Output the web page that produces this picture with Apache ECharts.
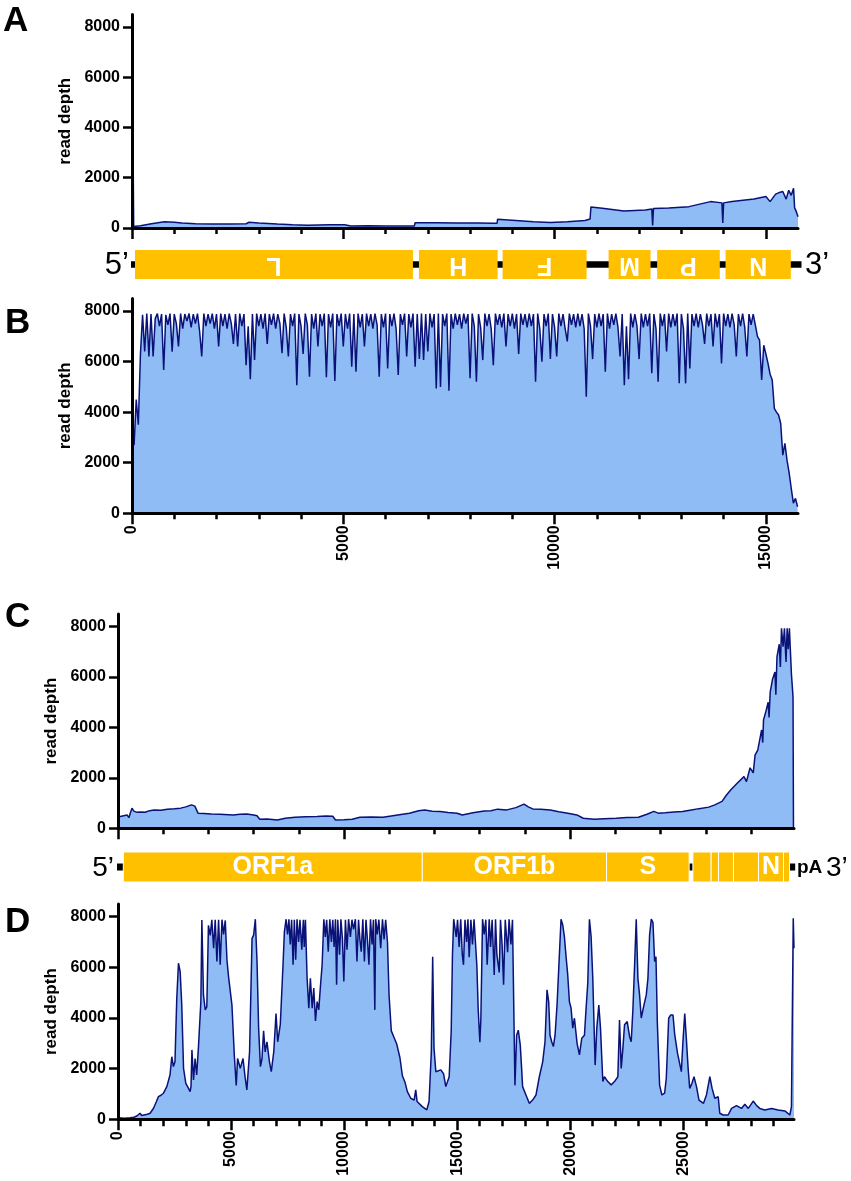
<!DOCTYPE html>
<html><head><meta charset="utf-8">
<script src="https://cdn.jsdelivr.net/npm/echarts@6/dist/echarts.min.js"></script>
<style>html,body{margin:0;padding:0;background:#fff}#c{width:851px;height:1181px}</style>
</head><body><div id="c"></div>
<script>
// ---------------- DATA ----------------
// Panel A (positions nt, read depth)
const aPos = [0,20,40,200,460,770,1000,1180,1500,1900, 2300,2700,2770,3000,3440,3800,4150,4670,5030,5180,
  5600,6000,6400,6680,6700,7200,7700,8200,8560,8640, 8650,9080,9500,9900,10300,10720,10840,10860,11130,11640,
  12150,12300,12320,12340,12700,13180,13690,13960,13980,14000, 14200,14720,15000,15100,15230,15300,15400,15480,15540,15600,
  15655,15680,15720,15760];
const aDepth = [8600,8600,60,90,170,250,230,200,170,160, 160,170,230,200,160,130,105,130,130,80,
  85,80,75,80,210,205,200,195,185,190, 345,300,250,220,250,300,360,840,790,680,
  720,760,100,780,800,850,1050,1000,200,1000, 1050,1150,1250,1050,1350,1400,1450,1150,1500,1300,
  1580,800,650,450];

// Panel B (sampled every bStep nt)
const bStep = 50;
const bDepth = [
  3000,2700,4500,3500,6300,7850,6400,7900,6200,7880,6200,7700,7900,7400,7880,5670,7850,7450,7900,6390,
  7880,7500,6600,7900,7300,7880,7600,7900,7350,7880,7500,7900,7200,6200,7900,7400,7880,7500,7900,7300,
  7880,6600,7900,7400,7880,7300,7900,7500,6700,7880,6600,7900,7400,7880,5860,7400,5300,7880,6060,7900,
  7400,7880,7300,7900,6700,7880,7450,7900,7300,7880,7500,6330,7900,7350,6200,7880,7400,7900,5070,7880,
  7400,6300,7900,7450,5400,7880,7300,7900,6600,7880,7400,7900,5380,7880,7350,7900,5230,7880,7400,7900,
  6600,7880,7300,7900,5800,7880,5600,7900,7350,7880,6600,7900,7400,7880,7300,7900,7450,5400,7880,7350,
  7900,5730,7880,7400,7900,7300,5470,7880,7450,7900,6200,7880,7350,7900,5800,7880,6100,7900,6060,7880,
  6400,7900,7350,7880,4940,7900,5000,7880,7400,7900,4850,7880,7300,7900,7450,7880,7300,7900,7500,7880,
  5340,7900,7400,5200,7880,7350,6060,7900,7400,7880,7300,5860,7900,7450,7880,7350,7900,6600,7880,7400,
  7900,7300,7880,6300,7900,7450,7880,7350,7900,7400,7880,5200,7900,7300,6000,7880,7400,7900,6100,7880,
  7350,6200,7900,7400,7880,7300,6800,7900,7450,7880,7350,7900,7400,7880,7300,4610,7900,7400,6100,7880,
  7350,7900,7400,7880,5600,7900,7300,7880,7450,7900,7350,6200,7880,5070,7400,5300,7900,7350,7880,7400,
  6100,7900,7350,7880,7400,7900,5540,7880,7300,5200,7900,7400,7880,6400,7900,7350,7880,7400,7900,5140,
  7880,7300,5140,7900,5730,7880,7400,7900,7350,7880,7450,6700,7900,7400,7880,6600,7900,7350,7880,5930,
  7900,7400,7880,7350,7900,7450,6200,7880,7400,7900,7350,6200,7880,7450,7880,7450,7000,6850,5270,6650,
  6300,5930,5500,5270,4150,4000,3890,3560,2300,2770,2100,1600,990,400,590,260];

// Panel C ([position, read depth])
const cCoverage = [[0,450],[40,470],[250,500],[400,530],[480,420],[560,650],[620,800],[700,680],[820,640],[900,600],
  [1000,650],[1200,640],[1400,700],[1600,730],[1900,720],[2180,760],[2500,780],[2770,800],[3000,850],[3250,930],
  [3400,880],[3450,840],[3540,600],[3800,590],[4130,570],[4500,560],[5100,530],[5400,560],[5690,570],[6000,530],
  [6150,500],[6270,360],[6600,370],[7050,330],[7400,400],[7830,440],[8300,460],[8800,470],[9200,490],[9500,480],
  [9620,330],[10000,340],[10360,360],[10700,440],[11200,450],[11720,440],[12300,520],[12890,600],[13300,700],[13570,730],
  [13900,680],[14250,670],[14600,630],[15000,600],[15230,530],[15700,620],[16200,690],[16500,700],[16790,760],[17200,730],
  [17600,820],[17960,960],[18150,850],[18350,770],[18700,760],[19120,730],[19500,660],[19900,600],[20300,530],[20580,400],
  [21070,360],[21500,380],[22040,400],[22500,430],[23020,440],[23400,560],[23700,670],[23900,600],[24200,620],[24600,650],
  [24970,670],[25300,720],[25700,780],[26130,840],[26400,930],[26720,1070],[26900,1300],[27110,1530],[27400,1800],[27690,2050],
  [27800,1850],[27960,2400],[28100,2200],[28180,2900],[28300,3100],[28470,3900],[28520,3400],[28555,4300],[28650,4600],[28760,5000],
  [28800,4400],[28850,5400],[28950,5900],[29060,6200],[29100,5300],[29150,6800],[29250,7300],[29300,6400],[29350,7930],[29420,7200],
  [29480,7930],[29550,6600],[29600,7930],[29650,7100],[29700,7930],[29740,7900],[29790,6100],[29830,5600],[29860,5200],[29880,0]];

// Panel D ([position, read depth])
const dCoverage = [[0,60],[15,60],[300,40],[530,60],[700,80],[830,130],[975,240],[1050,150],[1120,170],[1300,200],
  [1420,240],[1570,435],[1700,700],[1790,895],[1900,950],[2010,1030],[2160,1290],[2300,1750],[2380,2470],[2450,2080],
  [2520,2270],[2600,4780],[2675,6160],[2750,5830],[2820,4510],[2900,2010],[3000,1420],[3120,1220],[3190,1090],[3230,1300],
  [3270,2740],[3340,1550],[3410,2400],[3480,1750],[3560,2870],[3665,4640],[3710,7870],[3780,4910],[3860,4320],[3930,4450],
  [4000,7660],[4080,7260],[4150,7880],[4230,6750],[4300,7880],[4375,6230],[4450,7880],[4520,6100],[4600,7880],[4670,7300],
  [4745,7850],[4820,6290],[4890,5630],[5040,4510],[5145,2530],[5230,1340],[5290,2400],[5410,2010],[5530,2400],[5620,1680],
  [5700,1160],[5820,2660],[5930,7140],[6000,7270],[6075,7900],[6150,6230],[6220,3620],[6300,2080],[6370,2400],[6440,3490],
  [6510,2660],[6590,3060],[6700,2270],[6780,1880],[6890,2660],[6990,4180],[7065,3060],[7180,3750],[7300,6100],[7360,7400],
  [7435,7900],[7500,7300],[7560,7900],[7620,6900],[7680,7880],[7745,6100],[7800,7880],[7860,6300],[7920,7900],[7990,7000],
  [8050,7880],[8130,6700],[8200,7880],[8240,6800],[8290,7880],[8365,5570],[8440,4390],[8510,5570],[8590,4390],[8660,5180],
  [8735,3880],[8810,4650],[8880,4320],[8960,5310],[9030,6100],[9105,7900],[9170,7200],[9230,7880],[9300,6620],[9370,7900],
  [9440,7000],[9500,7880],[9560,6800],[9620,7900],[9670,5310],[9720,7880],[9800,6500],[9860,7900],[9930,7100],[9990,5440],
  [10060,7880],[10130,6700],[10200,7900],[10280,7200],[10350,7880],[10420,7500],[10500,7900],[10570,6230],[10640,7880],[10700,7100],
  [10760,6620],[10830,7900],[10900,6230],[10970,7880],[11040,7000],[11100,6100],[11170,7900],[11240,6900],[11300,7880],[11360,4320],
  [11400,7900],[11470,7300],[11540,7880],[11620,6750],[11700,7900],[11770,7100],[11840,7880],[11920,7000],[11990,4910],[12090,3490],
  [12210,3230],[12330,2970],[12470,2440],[12580,1720],[12700,1450],[12800,1090],[12950,830],[13100,760],[13170,1160],[13230,700],
  [13460,500],[13660,370],[13760,700],[13860,2660],[13920,6420],[13980,2790],[14060,1880],[14280,1950],[14400,1800],[14500,1290],
  [14650,1680],[14740,3500],[14795,6500],[14850,7900],[14960,7200],[15020,7880],[15090,6800],[15160,7900],[15230,6500],[15283,6100],
  [15350,7880],[15420,7000],[15480,7900],[15534,6400],[15610,7880],[15680,6900],[15750,7900],[15830,7880],[15874,6070],[15933,4350],
  [16007,3040],[16051,3960],[16126,7900],[16200,7300],[16270,7880],[16330,6100],[16420,7900],[16480,6800],[16550,7880],[16642,5700],
  [16700,7900],[16760,6500],[16864,5800],[16920,7880],[16990,6900],[17056,5310],[17130,7880],[17234,6600],[17300,7900],[17381,6900],
  [17450,7880],[17529,7900],[17559,1340],[17633,3320],[17707,3520],[17795,2930],[17854,2010],[17898,1290],[18046,960],[18194,630],
  [18342,760],[18490,960],[18638,1680],[18786,2270],[18889,3060],[18978,5110],[19052,4640],[19111,3320],[19185,3060],[19259,2870],
  [19333,3320],[19421,4510],[19524,6490],[19598,7900],[19672,7680],[19746,7210],[19820,6420],[19894,5700],[19968,4640],[20042,4390],
  [20116,3600],[20190,3990],[20308,3000],[20411,2540],[20515,3200],[20633,3320],[20707,4390],[20780,5370],[20854,7900],[20928,7210],
  [21002,5570],[21106,2140],[21180,3600],[21269,4510],[21343,3600],[21446,1490],[21518,1680],[21666,1490],[21815,1360],[21963,1490],
  [22111,1680],[22185,3920],[22259,2010],[22333,2800],[22407,3730],[22525,3860],[22629,3270],[22702,3060],[22776,4320],[22850,6040],
  [22924,7900],[22998,5570],[23072,4910],[23146,4000],[23265,4510],[23368,4910],[23442,5570],[23516,7280],[23590,7900],[23664,7770],
  [23738,6230],[23797,6420],[23856,3860],[23958,1340],[24060,960],[24180,1030],[24254,1620],[24360,3990],[24450,4120],[24550,4120],
  [24630,3320],[24750,2610],[24860,2140],[24920,1880],[24990,3060],[25070,4180],[25140,3200],[25220,2010],[25290,1220],[25390,1420],
  [25480,1680],[25590,1290],[25700,760],[25900,630],[26030,960],[26180,1680],[26280,1220],[26400,830],[26550,890],[26620,240],
  [26770,170],[26990,170],[27140,430],[27360,540],[27580,430],[27730,590],[27880,430],[28100,720],[28250,540],[28390,430],
  [28610,370],[28910,430],[29200,370],[29500,330],[29720,170],[29790,500],[29870,7940],[29903,6750]];

// Genome lengths (axis maxima)
const rsvMax = 15760, covMax = 29903;

// Gene maps
const aGeneNames = ['L','H','F','M','P','N'];
const aGeneStart = [71, 6790, 8770, 11278, 12427, 14045];
const aGeneEnd   = [6648, 8652, 10757, 12271, 13910, 15590];
const aBackbone  = [-24, 15843];

const cGeneNames  = ['ORF1a','ORF1b','S','ORF3a','E','M','ORF6-8','N','ORF10'];
const cGeneLabels = ['ORF1a','ORF1b','S','','','','','N',''];
const cGeneStart  = [235, 13460, 21610, 25430, 26239, 26562, 27226, 28332, 29438];
const cGeneEnd    = [13460, 21610, 25265, 26239, 26562, 27226, 28332, 29438, 29704];
const cBackbone   = [-44, 29956];

// Ticks
const yTicks = [0,2000,4000,6000,8000];
const rsvMinorTicks = [0,1000,2000,3000,4000,5000,6000,7000,8000,9000,10000,11000,12000,13000,14000,15000];
const rsvMajorTicks = [0,5000,10000,15000];
const cMinorTicks = [0,2000,4000,6000,8000,10000,12000,14000,16000,18000,20000,22000,24000,26000,28000];
const cMajorTicks = [0,10000,20000];
const dMinorTicks = [0,1000,2000,3000,4000,5000,6000,7000,8000,9000,10000,11000,12000,13000,14000,15000,16000,17000,18000,19000,20000,21000,22000,23000,24000,25000,26000,27000,28000,29000];
const dMajorTicks = [0,5000,10000,15000,20000,25000];

// ---------------- CHART ----------------
const FONT = "'Liberation Sans', Arial, Helvetica, sans-serif";
const NARROW = "'Liberation Sans Narrow', 'Arial Narrow', 'Liberation Sans', Arial, sans-serif";
const FILL = '#8fbcf5', LINE = '#0a1278', GOLD = '#ffc000';
const plain = v => String(v);

const bCoverage = bDepth.map((v, i) => [i * bStep, v]);
const aCoverage = aPos.map((p, i) => [p, aDepth[i]]);

function depthAxis(g, gap) {
  return {type:'value', gridIndex:g, min:0, max:8500, interval:2000, z:3,
    axisLine:{show:true, lineStyle:{color:'#000', width:3}},
    axisTick:{show:true, customValues:yTicks, length:9, lineStyle:{color:'#000', width:2.5}},
    axisLabel:{customValues:yTicks, formatter:plain, margin:12, color:'#000', fontSize:16, fontWeight:'bold', fontFamily:FONT},
    splitLine:{show:false},
    name:'read depth', nameLocation:'middle', nameGap:gap, nameRotate:90,
    nameTextStyle:{color:'#000', fontSize:17, fontWeight:'bold', fontFamily:FONT}};
}
function minorX(g, max, ticks, len) {
  return {type:'value', gridIndex:g, position:'bottom', min:0, max:max, z:3,
    axisLine:{show:true, onZero:false, lineStyle:{color:'#000', width:3}},
    axisTick:{show:true, customValues:ticks, length:len, lineStyle:{color:'#000', width:2.5}},
    axisLabel:{show:false}, splitLine:{show:false}};
}
function majorX(g, max, ticks, labels) {
  return {type:'value', gridIndex:g, position:'bottom', min:0, max:max, z:3,
    axisLine:{show:false, onZero:false},
    axisTick:{show:true, customValues:ticks, length:11, lineStyle:{color:'#000', width:2.5}},
    axisLabel: labels ? {show:true, customValues:ticks, formatter:plain, rotate:90, margin:12, color:'#000',
      fontSize:16, fontWeight:'bold', fontFamily:FONT} : {show:false},
    splitLine:{show:false}};
}
function hiddenX(g, max) { return {type:'value', gridIndex:g, min:0, max:max, show:false}; }
function hiddenY(g) { return {type:'value', gridIndex:g, min:0, max:1, show:false}; }

function coverageSeries(xi, yi, data) {
  return {type:'line', xAxisIndex:xi, yAxisIndex:yi, data:data, showSymbol:false, symbol:'none',
    sampling:null, silent:true, animation:false, z:2,
    lineStyle:{color:LINE, width:1.5}, areaStyle:{color:FILL, opacity:1}};
}
function backboneSeries(xi, yi, range, th) {
  return {type:'custom', xAxisIndex:xi, yAxisIndex:yi, clip:false, silent:true, animation:false, z:2,
    data:[range],
    renderItem:function(params, api){
      const a = api.coord([api.value(0), 0.5]), b = api.coord([api.value(1), 0.5]);
      return {type:'rect', shape:{x:a[0], y:a[1]-th/2, width:b[0]-a[0], height:th}, style:{fill:'#000'}};
    }};
}
function geneSeries(xi, yi, starts, ends, labels, rot, fontSize, stroke) {
  return {type:'custom', xAxisIndex:xi, yAxisIndex:yi, clip:false, silent:true, animation:false, z:3,
    data: starts.map((s, i) => [s, ends[i]]),
    renderItem:function(params, api){
      const a = api.coord([api.value(0), 1]), b = api.coord([api.value(1), 0]);
      const children = [{type:'rect', shape:{x:a[0], y:a[1], width:b[0]-a[0], height:b[1]-a[1]},
        style: stroke ? {fill:GOLD, stroke:'#fff', lineWidth:1} : {fill:GOLD}}];
      const lab = labels[params.dataIndex];
      if (lab) children.push({type:'text', x:(a[0]+b[0])/2, y:(a[1]+b[1])/2, rotation:rot,
        style:{text:lab, fill:'#fff', font:'bold '+fontSize+'px '+FONT,
          align:'center', verticalAlign:'middle', textAlign:'center', textVerticalAlign:'middle'}});
      return {type:'group', children:children};
    }};
}
function txt(x, y, t, font, align) {
  return {type:'text', x:x, y:y, silent:true,
    style:{text:t, font:font, fill:'#000', align:align, verticalAlign:'middle', textAlign:align, textVerticalAlign:'middle'}};
}

const option = {
  animation:false,
  backgroundColor:'#fff',
  grid:[
    {left:132, top:14.4, width:666, height:213.6},
    {left:132, top:298.4, width:666, height:214.9},
    {left:118, top:614, width:676, height:214.3},
    {left:118, top:904, width:676, height:215.3},
    {left:132, top:250, width:666, height:29},
    {left:118, top:852, width:676, height:30}
  ],
  xAxis:[
    minorX(0, rsvMax, rsvMinorTicks, 6), majorX(0, rsvMax, rsvMajorTicks, false),
    minorX(1, rsvMax, rsvMinorTicks, 6), majorX(1, rsvMax, rsvMajorTicks, true),
    minorX(2, covMax, cMinorTicks, 6), majorX(2, covMax, cMajorTicks, false),
    minorX(3, covMax, dMinorTicks, 7), majorX(3, covMax, dMajorTicks, true),
    hiddenX(4, rsvMax), hiddenX(5, covMax)
  ],
  yAxis:[depthAxis(0, 51), depthAxis(1, 51), depthAxis(2, 50), depthAxis(3, 50), hiddenY(4), hiddenY(5)],
  series:[
    coverageSeries(0, 0, aCoverage),
    coverageSeries(2, 1, bCoverage),
    coverageSeries(4, 2, cCoverage),
    coverageSeries(6, 3, dCoverage),
    backboneSeries(8, 4, aBackbone, 6.5),
    geneSeries(8, 4, aGeneStart, aGeneEnd, aGeneNames, Math.PI, 25, false),
    backboneSeries(9, 5, cBackbone, 7),
    geneSeries(9, 5, cGeneStart, cGeneEnd, cGeneLabels, 0, 25, true)
  ],
  graphic:[
    txt(3, 21, 'A', 'bold 35px '+FONT, 'left'),
    txt(5, 323, 'B', 'bold 35px '+FONT, 'left'),
    txt(5, 617, 'C', 'bold 35px '+FONT, 'left'),
    txt(5, 922, 'D', 'bold 35px '+FONT, 'left'),
    txt(129, 265, '5\u2019', '31px '+NARROW, 'right'),
    txt(805, 265, '3\u2019', '31px '+NARROW, 'left'),
    txt(114, 868, '5\u2019', '28px '+NARROW, 'right'),
    txt(797, 868, 'pA', 'bold 19px '+FONT, 'left'),
    txt(826, 868, '3\u2019', '28px '+NARROW, 'left')
  ]
};
const chart = echarts.init(document.getElementById('c'), null, {renderer:'canvas'});
chart.setOption(option);
</script></body></html>
